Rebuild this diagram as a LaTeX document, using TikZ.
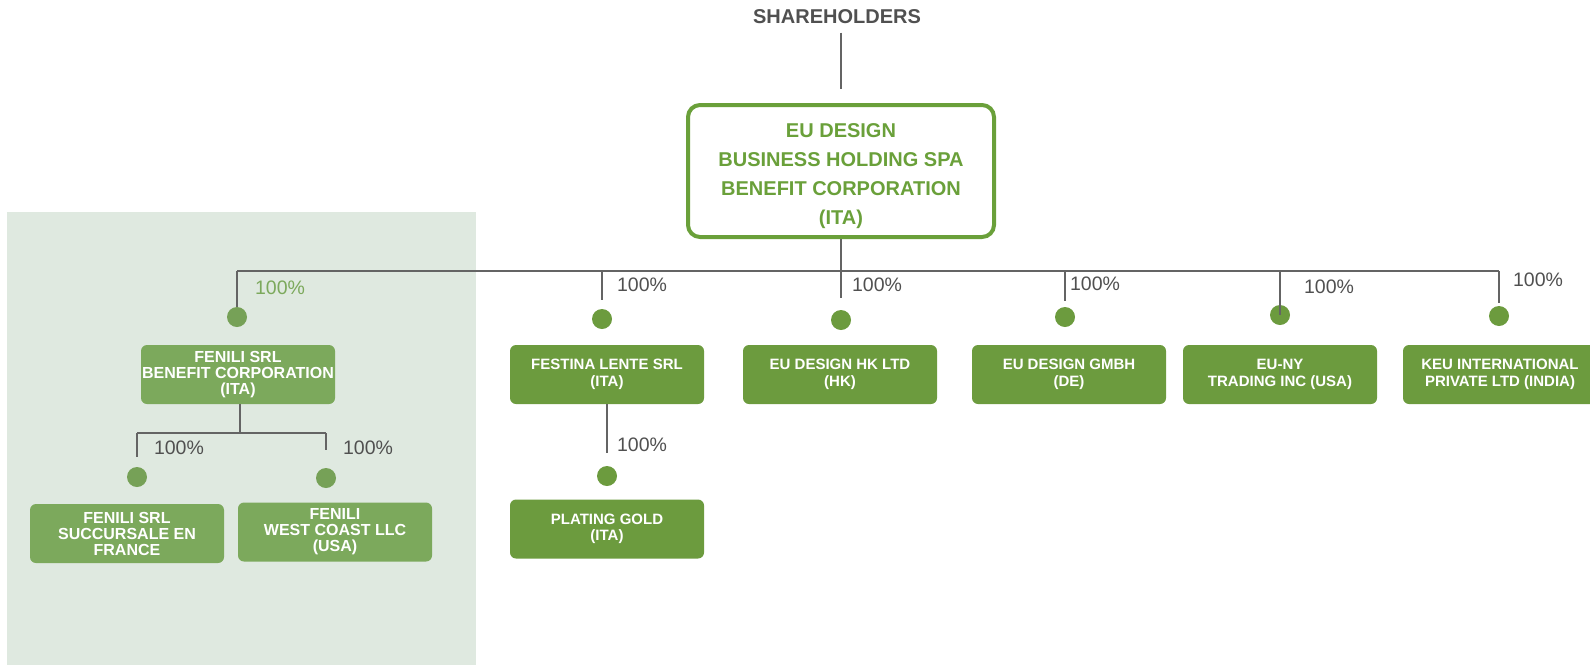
\documentclass[tikz,border=0pt]{standalone}
\usepackage{fontspec}
\setmainfont{Liberation Sans}
\usepackage{tikz}
\usetikzlibrary{positioning,backgrounds}

\definecolor{leafgreen}{RGB}{108,155,62}
\definecolor{palegreen}{RGB}{124,169,92}
\definecolor{rimgreen}{RGB}{106,160,58}
\definecolor{panelgray}{RGB}{223,233,224}
\definecolor{linegray}{RGB}{100,100,100}
\definecolor{textgray}{RGB}{80,80,80}

\begin{document}
\begin{tikzpicture}[x=1pt,y=-1pt,
        company/.style={rounded corners=6pt, fill=leafgreen, text=white, align=center,
            font=\bfseries\fontsize{15}{16.5}\selectfont,
            minimum width=194pt, minimum height=59pt, inner sep=0pt},
        fenilibox/.style={company, fill=palegreen, font=\bfseries\fontsize{16}{16}\selectfont},
        holdingbox/.style={draw=rimgreen, line width=4pt, rounded corners=12pt, text=rimgreen,
            align=center, font=\bfseries\fontsize{20}{29.3}\selectfont, text height=112pt,
            minimum width=306pt, minimum height=132pt, inner sep=0pt},
        dot/.style={circle, fill=leafgreen, minimum size=20pt, inner sep=0pt},
        fenilidot/.style={dot, fill=palegreen!95!black},
        pct/.style={text=textgray, font=\fontsize{19.5}{19.5}\selectfont, inner sep=0pt},
        link/.style={draw=linegray, line width=1.3pt}]

            \useasboundingbox (0,0) rectangle (1590,665);
            \fill[panelgray] (7,212) rectangle (476,665);

            \node[text=textgray, font=\bfseries\fontsize{20}{20}\selectfont] (share) at (837,17) {SHAREHOLDERS};
            \node[holdingbox] (holding) at (841,171) {EU DESIGN\\BUSINESS HOLDING SPA\\BENEFIT CORPORATION\\(ITA)};

            \node[fenilibox] (fenili) at (238,374.5) {FENILI SRL\\BENEFIT CORPORATION\\(ITA)};
            \node[company] (festina) at (607,374.5) {FESTINA LENTE SRL\\(ITA)};
            \node[company] (hk) at (840,374.5) {EU DESIGN HK LTD\\(HK)};
            \node[company] (gmbh) at (1069,374.5) {EU DESIGN GMBH\\(DE)};
            \node[company] (ny) at (1280,374.5) {EU-NY\\TRADING INC (USA)};
            \node[company] (keu) at (1500,374.5) {KEU INTERNATIONAL\\PRIVATE LTD (INDIA)};

            \node[fenilibox] (succursale) at (127,533.5) {FENILI SRL\\SUCCURSALE EN\\FRANCE};
            \node[fenilibox] (westcoast) at (335,532) {FENILI\\WEST COAST LLC\\(USA)};
            \node[company] (plating) at (607,529) {PLATING GOLD\\(ITA)};

            \node[fenilidot] (dFen) at (237,317) {};
            \node[dot] (dFes) at (602,319) {};
            \node[dot] (dHK) at (841,320) {};
            \node[dot] (dGmbh) at (1065,317) {};
            \node[dot] (dNY) at (1280,315) {};
            \node[dot] (dKeu) at (1499,316) {};
            \node[fenilidot] (dSuc) at (137,477) {};
            \node[fenilidot] (dWest) at (326,478) {};
            \node[dot] (dPlat) at (607,476) {};

            \node[pct, text=palegreen] (pFen) at (280,288) {100\%};
            \node[pct] (pFes) at (642,285) {100\%};
            \node[pct] (pHK) at (877,285) {100\%};
            \node[pct] (pGmbh) at (1095,284) {100\%};
            \node[pct] (pNY) at (1329,287) {100\%};
            \node[pct] (pKeu) at (1538,280) {100\%};
            \node[pct] (pSuc) at (179,448) {100\%};
            \node[pct] (pWest) at (368,448) {100\%};
            \node[pct] (pPlat) at (642,445) {100\%};

            \coordinate (bus) at (841,271);
            \coordinate (fork) at (240,433);

            \draw[link, shorten <=5pt, shorten >=14pt] (share.south -| holding.north) -- (holding.north);
            \draw[link, shorten >=12pt] (holding.south) -- (dHK);
            \draw[link] (dFen |- bus) -- (dKeu |- bus);
            \draw[link] (dFen |- bus) -- (dFen);
            \draw[link, shorten >=9pt] (dFes |- bus) -- (dFes);
            \draw[link, shorten >=6pt] (dGmbh |- bus) -- (dGmbh);
            \draw[link] (dNY |- bus) -- (dNY.center);
            \draw[link, shorten >=3pt] (dKeu |- bus) -- (dKeu);

            \draw[link] (fenili.south -| fork) -- (fork);
            \draw[link] (dSuc |- fork) -- (dWest |- fork);
            \draw[link, shorten >=10pt] (dSuc |- fork) -- (dSuc);
            \draw[link, shorten >=18pt] (dWest |- fork) -- (dWest);

            \draw[link, shorten >=13pt] (festina.south -| dPlat) -- (dPlat);
        \end{tikzpicture}
\end{document}
